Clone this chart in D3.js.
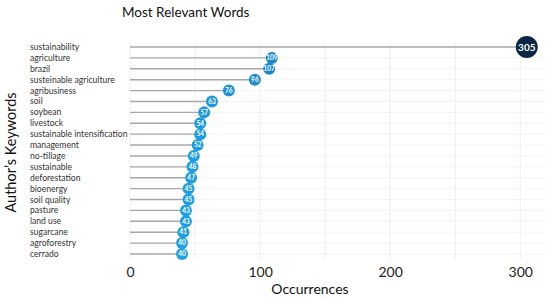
<!DOCTYPE html>
<html>
<head>
<meta charset="utf-8">
<script src="https://cdn.jsdelivr.net/npm/d3@7"></script>
<style>
  body { margin: 0; background: #fff; }
  text { font-family: Lato, "Open Sans", sans-serif; }
</style>
</head>
<body>
<div class="chart"></div>
<script>
// keywords and their counts, top to bottom
var keywords = ["sustainability", "agriculture", "brazil", "susteinable agriculture", "agribusiness",
  "soil", "soybean", "livestock", "sustainable intensification", "management", "no-tillage",
  "sustainable", "deforestation", "bioenergy", "soil quality", "pasture", "land use",
  "sugarcane", "agroforestry", "cerrado"];
var occurrences = [305, 109, 107, 96, 76, 63, 57, 54, 54, 52, 49, 48, 47, 45, 45, 43, 43, 41, 40, 40];
var xTicks = [0, 100, 200, 300];

var svgWidth = 550;
var svgHeight = 299;

var margin = { top: 41, right: 5, bottom: 39, left: 130 };
var width = svgWidth - margin.left - margin.right;
var height = svgHeight - margin.top - margin.bottom;

var svg = d3.select(".chart")
  .append("svg")
  .attr("width", svgWidth)
  .attr("height", svgHeight);

var chartGroup = svg.append("g")
  .attr("transform", `translate(${margin.left}, ${margin.top})`);

var data = keywords.map(function(k, i) { return { word: k, n: occurrences[i] }; });

var xScale = d3.scaleLinear().domain([0, 319]).range([0, width]);
var yScale = d3.scalePoint().domain(keywords).range([6, height - 6]);

var color = d3.scaleLinear()
  .domain([40, 110, 305])
  .range(["#1ea0e6", "#1a86cc", "#0b2746"]);

// grid
chartGroup.selectAll(".vgrid")
  .data(d3.range(0, 320, 50))
  .enter().append("line")
  .attr("x1", d => xScale(d)).attr("x2", d => xScale(d))
  .attr("y1", 0).attr("y2", height)
  .attr("stroke", "#ececec").attr("stroke-width", 0.8);

chartGroup.selectAll(".hgrid")
  .data(keywords)
  .enter().append("line")
  .attr("x1", 0).attr("x2", width)
  .attr("y1", d => yScale(d)).attr("y2", d => yScale(d))
  .attr("stroke", "#f0f0f0").attr("stroke-width", 0.8);

// stems
chartGroup.selectAll(".stem")
  .data(data)
  .enter().append("line")
  .attr("x1", xScale(0))
  .attr("x2", d => xScale(d.n))
  .attr("y1", d => yScale(d.word))
  .attr("y2", d => yScale(d.word))
  .attr("stroke", "#a8a8a8")
  .attr("stroke-width", 1.4);

// dots
chartGroup.selectAll(".dot")
  .data(data)
  .enter().append("circle")
  .attr("cx", d => xScale(d.n))
  .attr("cy", d => yScale(d.word))
  .attr("r", d => d.n > 200 ? 11 : 6)
  .attr("fill", d => color(d.n));

chartGroup.selectAll(".dotlabel")
  .data(data)
  .enter().append("text")
  .attr("x", d => xScale(d.n))
  .attr("y", d => yScale(d.word))
  .attr("dy", "0.35em")
  .attr("text-anchor", "middle")
  .attr("fill", "#fff")
  .attr("font-weight", "bold")
  .attr("font-size", d => d.n > 200 ? "10px" : "6.5px")
  .text(d => d.n);

// keyword labels
chartGroup.selectAll(".kw")
  .data(keywords)
  .enter().append("text")
  .attr("x", 30 - margin.left)
  .attr("y", d => yScale(d))
  .attr("dy", "0.35em")
  .attr("font-size", "8.6px")
  .attr("fill", "#333")
  .text(d => d);

// x tick labels
var bottomAxis = d3.axisBottom(xScale).tickValues(xTicks).tickSize(0).tickPadding(7);
var xAxisG = chartGroup.append("g")
  .attr("transform", `translate(0, ${height})`)
  .call(bottomAxis);
xAxisG.select(".domain").remove();
xAxisG.selectAll("text")
  .attr("font-family", "Lato, sans-serif")
  .attr("font-size", "14px")
  .attr("fill", "#222");

// titles
svg.append("text")
  .attr("x", 122).attr("y", 17)
  .attr("font-size", "13.5px")
  .attr("fill", "#111")
  .text("Most Relevant Words");

svg.append("text")
  .attr("transform", `translate(16, ${margin.top + height / 2 + 2}) rotate(-90)`)
  .attr("text-anchor", "middle")
  .attr("font-size", "14.5px")
  .attr("fill", "#111")
  .text("Author’s Keywords");

svg.append("text")
  .attr("x", 310).attr("y", 294)
  .attr("text-anchor", "middle")
  .attr("font-size", "14px")
  .attr("fill", "#111")
  .text("Occurrences");
</script>
</body>
</html>
